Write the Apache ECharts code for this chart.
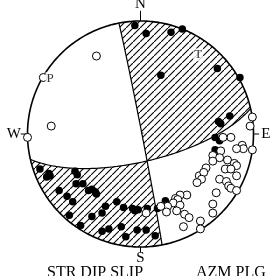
<!DOCTYPE html>
<html>
<head>
<meta charset="utf-8">
<script src="https://cdn.jsdelivr.net/npm/echarts@6/dist/echarts.min.js"></script>
<style>
html,body{margin:0;padding:0;background:#fff;}
#main{width:273px;height:276px;}
</style>
</head>
<body>
<div id="main"></div>
<script>
// nodal planes [strike, dip]
var plane1 = [349, 89];
var plane2 = [77, 70];

// polarities, projected position in percent of net radius (x east, y north)
var compressions = [
	[-5,96],[5,89],[27,90],[37,93],[18,52],[68,58],[88,50],[79,16],[69,11],[71,9],[66,-3],[70,-6],[66,-14],
	[22,-59],[15,-66],[6,-66],[-2,-67],[5,-85],[13,-90],[-3,-85],
	[-89,-31],[-81,-35],[-83,-38],[-80,-37],[-58,-33],[-56,-36],[-57,-44],[-51,-44],[-72,-50],[-65,-55],
	[-60,-60],[-46,-50],[-43,-49],[-40,-51],[-39,-53],[-63,-72],[-43,-73],[-53,-81],[-31,-64],[-21,-60],
	[-15,-65],[-7,-66],[-5,-68],[-34,-70],[-28,-84],[-34,-86],[-17,-82],[-13,-91]
];
var dilatations = [
	[-39,69],[-79,7],[-100,-3],[99,15],[97,7],[80,-3],[73,-3],[90,-10],[91,-13],[85,-13],[99,-14],
	[71,-15],[64,-19],[70,-21],[64,-24],[77,-23],[83,-26],[85,-28],[58,-30],[75,-31],[80,-31],[85,-37],
	[52,-37],[56,-34],[54,-40],[50,-43],[70,-40],[76,-42],[78,-46],[80,-48],[67,-52],[85,-50],
	[41,-54],[35,-54],[31,-57],[33,-58],[29,-61],[35,-63],[24,-64],[18,-64],[23,-69],[5,-70],
	[32,-68],[39,-71],[43,-74],[64,-62],[64,-70],[53,-77],[38,-82],[53,-84]
];
var pAxis = [-86, 50];
var tAxis = [51, 70];
var dirLabels = ['N', 'E', 'S', 'W'];
var captionLeft = 'STR DIP SLIP';
var captionRight = 'AZM PLG';

var D = Math.PI / 180;

// lower hemisphere equal-area projection of a direction [east, north, down]
function proj(v) {
	var len = Math.sqrt(v[0]*v[0] + v[1]*v[1] + v[2]*v[2]);
	var e = v[0]/len, n = v[1]/len, d = v[2]/len;
	if (d < 0) { e = -e; n = -n; d = -d; }
	var h = Math.sqrt(e*e + n*n);
	if (h < 1e-9) return [0, 0];
	var pl = Math.atan2(d, h);
	var r = 100 * Math.SQRT2 * Math.sin((Math.PI/2 - pl) / 2);
	return [r*e/h, r*n/h];
}
function basis(p) {
	var s = p[0]*D, d = p[1]*D;
	return [[Math.sin(s), Math.cos(s), 0], [Math.cos(s)*Math.cos(d), -Math.sin(s)*Math.cos(d), Math.sin(d)]];
}
function cross(a, b) {
	return [a[1]*b[2]-a[2]*b[1], a[2]*b[0]-a[0]*b[2], a[0]*b[1]-a[1]*b[0]];
}
function dot(a, b) { return a[0]*b[0] + a[1]*b[1] + a[2]*b[2]; }
function arc(p, t0, t1) {
	var b = basis(p), pts = [], n = Math.max(2, Math.ceil(Math.abs(t1 - t0)));
	for (var i = 0; i <= n; i++) {
		var t = (t0 + (t1 - t0)*i/n) * D, c = Math.cos(t), s = Math.sin(t);
		pts.push(proj([c*b[0][0]+s*b[1][0], c*b[0][1]+s*b[1][1], c*b[0][2]+s*b[1][2]]));
	}
	return pts;
}
function circ(a0, a1) {
	var pts = [], n = Math.max(2, Math.ceil(Math.abs(a1 - a0)));
	for (var i = 0; i <= n; i++) {
		var a = (a0 + (a1 - a0)*i/n) * D;
		pts.push([100*Math.sin(a), 100*Math.cos(a)]);
	}
	return pts;
}

var b1 = basis(plane1), b2 = basis(plane2);
var B = cross(cross(b1[0], b1[1]), cross(b2[0], b2[1]));
if (B[2] < 0) B = [-B[0], -B[1], -B[2]];
var tB1 = Math.atan2(dot(B, b1[1]), dot(B, b1[0])) / D;
var tB2 = Math.atan2(dot(B, b2[1]), dot(B, b2[0])) / D;

var quadNE = arc(plane1, 0, tB1).concat(arc(plane2, tB2, 0), circ(plane2[0], plane1[0] - 360));
var quadSW = arc(plane1, tB1, 180).concat(circ(plane1[0] - 180, plane2[0] + 180), arc(plane2, 180, tB2));

var pat = document.createElement('canvas');
pat.width = 7; pat.height = 7;
var g = pat.getContext('2d');
g.strokeStyle = '#000'; g.lineWidth = 1.1;
g.beginPath(); g.moveTo(-1, 8); g.lineTo(8, -1); g.stroke();

var serif = '"Liberation Serif", "DejaVu Serif", serif';
// label distance and tick length per direction, in net radii
var labelDist = [1.15, 1.11, 1.095, 1.12];
var tickLen = [0.09, 0.05, 0.05, 0.06];

var dom = document.getElementById('main');
var myChart = echarts.init(dom);
var option = {
	animation: false,
	grid: { left: 27.5, top: 21, width: 226, height: 226 },
	xAxis: { type: 'value', min: -100, max: 100, show: false },
	yAxis: { type: 'value', min: -100, max: 100, show: false },
	series: [
		{
			type: 'custom',
			z: 1,
			silent: true,
			data: [[0, 0]],
			renderItem: function (params, api) {
				function pts(list) { return list.map(function (q) { return api.coord(q); }); }
				return {
					type: 'group',
					children: [
						{ type: 'polygon', shape: { points: pts(quadNE) }, style: { fill: { image: pat, repeat: 'repeat' }, stroke: null } },
						{ type: 'polygon', shape: { points: pts(quadSW) }, style: { fill: { image: pat, repeat: 'repeat' }, stroke: null } },
						{ type: 'polyline', shape: { points: pts(arc(plane1, 0, 180)) }, style: { stroke: '#000', lineWidth: 1.2, fill: null } },
						{ type: 'polyline', shape: { points: pts(arc(plane2, 0, 180)) }, style: { stroke: '#000', lineWidth: 1.2, fill: null } },
						{ type: 'polygon', shape: { points: pts(circ(0, 360)) }, style: { stroke: '#000', lineWidth: 1.6, fill: null } }
					]
				};
			}
		},
		{
			type: 'custom',
			z: 2,
			silent: true,
			data: dirLabels.map(function (t, i) { return [Math.sin(i*90*D), Math.cos(i*90*D), i]; }),
			renderItem: function (params, api) {
				var ux = api.value(0), uy = api.value(1), i = api.value(2);
				var k = 100 + tickLen[i]*100, L = labelDist[i]*100;
				var p0 = api.coord([ux*100, uy*100]), p1 = api.coord([ux*k, uy*k]);
				var pl = api.coord([ux*L, uy*L]);
				return {
					type: 'group',
					children: [
						{ type: 'line', shape: { x1: p0[0], y1: p0[1], x2: p1[0], y2: p1[1] }, style: { stroke: '#000', lineWidth: 1 } },
						{ type: 'text', x: pl[0], y: pl[1], style: { text: dirLabels[i], font: '15px ' + serif, fill: '#000', align: 'center', verticalAlign: 'middle' } }
					]
				};
			}
		},
		{
			type: 'scatter',
			z: 3,
			silent: true,
			data: compressions,
			symbolSize: 7.5,
			itemStyle: { color: '#000', opacity: 1 }
		},
		{
			type: 'scatter',
			z: 3,
			silent: true,
			data: dilatations.concat([pAxis]),
			symbolSize: 8,
			itemStyle: { color: '#fff', borderColor: '#000', borderWidth: 1, opacity: 1 }
		},
		{
			type: 'scatter',
			z: 4,
			silent: true,
			data: [
				{ value: [pAxis[0] + 6, pAxis[1] - 1, 'P'] },
				{ value: [tAxis[0], tAxis[1], 'T'] },
				{ value: [1.5, 0, '*'], label: { fontSize: 7, backgroundColor: 'transparent' } }
			],
			symbolSize: 0,
			label: {
				show: true,
				position: 'inside',
				formatter: function (p) { return p.value[2]; },
				fontFamily: serif,
				fontSize: 13,
				color: '#000',
				backgroundColor: '#fff',
				padding: [0, 1]
			}
		}
	],
	graphic: [
		{ type: 'text', left: 47, top: 265, style: { text: captionLeft, font: '16px ' + serif, fill: '#000' } },
		{ type: 'text', left: 196, top: 265, style: { text: captionRight, font: '16px ' + serif, fill: '#000' } }
	]
};
myChart.setOption(option);
</script>
</body>
</html>
